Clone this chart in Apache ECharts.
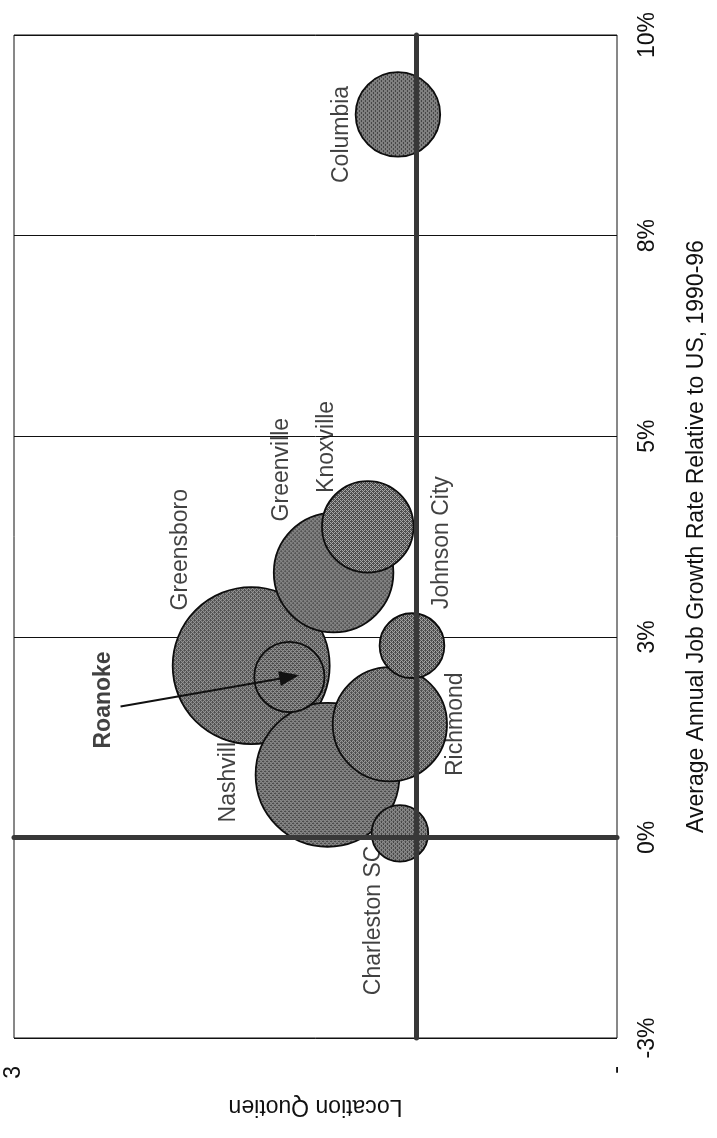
<!DOCTYPE html>
<html>
<head>
<meta charset="utf-8">
<script src="https://cdn.jsdelivr.net/npm/echarts@6/dist/echarts.min.js"></script>
<style>
  html, body { margin: 0; padding: 0; background: #ffffff; }
  #chart { width: 717px; height: 1138px; }
</style>
</head>
<body>
<div id="chart"></div>
<script>
// Metro areas: location quotient, average annual job growth relative to US (%), bubble size
const cities = ['Greensboro', 'Nashville', 'Greenville', 'Knoxville', 'Roanoke', 'Richmond', 'Johnson City', 'Charleston SC', 'Columbia'];
const locationQuotient = [1.82, 1.44, 1.41, 1.24, 1.63, 1.13, 1.02, 1.08, 1.09];
const jobGrowth = [2.14, 0.78, 3.30, 3.87, 2.00, 1.41, 2.39, 0.05, 9.01];
const bubbleSize = [100, 84, 58, 34, 20, 53, 17, 13, 29];

// Axis ranges and ticks
const growthTicks = [-2.5, 0, 2.5, 5, 7.5, 10];
const lqTicks = [0, 3];
const lqCross = 1;          // growth axis crosses the location quotient axis here
const growthCross = 0;      // location quotient axis crosses the growth axis here
const arrowTail = [2.47, 1.63];
const highlighted = 'Roanoke';

// Layout of the (rotated) page
const FONT = '"Liberation Sans", Arial, sans-serif';
const TEXT = '#111111';
const MAX_DIAMETER = 157;
// screen offsets of each city label from its bubble centre [dx, dy]
const labelShift = {
  'Greensboro': [-71, -116],
  'Nashville': [-99, 1],
  'Greenville': [-52, -103],
  'Knoxville': [-41, -80],
  'Roanoke': [-186, 23],
  'Richmond': [66, 0],
  'Johnson City': [30, -103],
  'Charleston SC': [-26, 87],
  'Columbia': [-56, 20]
};

const points = cities.map((c, i) => [locationQuotient[i], jobGrowth[i], bubbleSize[i], c]);
const diameter = size => MAX_DIAMETER * Math.sqrt(size / 100);

function pctLabel(v) {
  const r = Math.round(Math.abs(v));
  return (v < 0 ? '-' : '') + r + '%';
}

// fine stippled tile used to fill the bubbles
function stipple() {
  const c = document.createElement('canvas');
  c.width = 4; c.height = 4;
  const g = c.getContext('2d');
  g.fillStyle = '#d6d6d6';
  g.fillRect(0, 0, 4, 4);
  g.fillStyle = '#2a2a2a';
  for (let y = 0; y < 4; y++) {
    for (let x = 0; x < 4; x++) {
      if ((x + y) % 2 === 0) g.fillRect(x, y, 1, 1);
    }
  }
  g.fillStyle = '#5c5c5c';
  g.fillRect(1, 0, 1, 1);
  g.fillRect(3, 2, 1, 1);
  return c;
}
const tile = stipple();

const chart = echarts.init(document.getElementById('chart'), null, { renderer: 'canvas' });

const option = {
  animation: false,
  backgroundColor: '#ffffff',
  grid: {
    left: 14, right: 100, top: 35, bottom: 100,
    show: true, borderColor: '#111111', borderWidth: 1, backgroundColor: 'transparent'
  },
  xAxis: {
    type: 'value',
    min: lqTicks[0], max: lqTicks[lqTicks.length - 1], interval: lqTicks[1] - lqTicks[0],
    inverse: true,
    position: 'bottom',
    axisLine: { show: false, onZero: false },
    axisTick: { show: false },
    splitLine: { show: false },
    axisLabel: {
      rotate: 90, margin: 28, fontSize: 23, fontFamily: FONT, color: TEXT,
      formatter: v => (v === 0 ? '-' : String(v))
    },
    name: 'Location Quotien',
    nameLocation: 'middle',
    nameRotate: 180,
    nameGap: 57,
    nameTextStyle: { fontSize: 23, fontFamily: FONT, color: TEXT }
  },
  yAxis: {
    type: 'value',
    min: growthTicks[0], max: growthTicks[growthTicks.length - 1], interval: growthTicks[1] - growthTicks[0],
    position: 'right',
    axisLine: { show: false },
    axisTick: { show: false },
    splitLine: { show: true, lineStyle: { color: '#111111', width: 1 } },
    axisLabel: {
      rotate: 90, margin: 19, fontSize: 23, fontFamily: FONT, color: TEXT,
      formatter: pctLabel
    },
    name: 'Average Annual Job Growth Rate Relative to US, 1990-96',
    nameLocation: 'middle',
    nameRotate: 90,
    nameGap: 68,
    nameTextStyle: { fontSize: 23, fontFamily: FONT, color: TEXT }
  },
  series: [
    {
      // city names and the two crossing axes, drawn beneath the bubbles
      type: 'scatter',
      z: 2,
      silent: true,
      symbol: 'circle',
      symbolSize: 1,
      itemStyle: { color: 'transparent' },
      data: points.map(p => ({
        value: p,
        label: {
          show: true,
          position: 'inside',
          rotate: 90,
          formatter: p[3],
          fontSize: 23,
          fontFamily: FONT,
          fontWeight: p[3] === highlighted ? 'bold' : 'normal',
          color: TEXT,
          // offsets turn with the rotated text: [along text, across text]
          offset: [-labelShift[p[3]][1], labelShift[p[3]][0]]
        }
      })),
      markLine: {
        silent: true,
        symbol: ['none', 'none'],
        label: { show: false },
        lineStyle: { color: '#383838', width: 5, type: 'solid', cap: 'round' },
        data: [{ xAxis: lqCross }, { yAxis: growthCross }]
      }
    },
    {
      type: 'scatter',
      z: 3,
      silent: true,
      symbol: 'circle',
      symbolSize: v => diameter(v[2]),
      itemStyle: {
        borderColor: '#0d0d0d',
        borderWidth: 1.8,
        opacity: 1
      },
      label: { show: false },
      data: points.map(p => {
        // symbols are drawn as unit circles scaled up, so the tile is scaled back down
        const k = 2 / diameter(p[2]);
        return {
          value: p,
          itemStyle: { color: { image: tile, repeat: 'repeat', scaleX: k, scaleY: k } }
        };
      })
    },
    {
      // pointer from the highlighted label to its bubble
      type: 'scatter',
      z: 4,
      silent: true,
      symbolSize: 0,
      data: [],
      markLine: {
        silent: true,
        symbol: ['none', 'triangle'],
        symbolSize: [15, 20],
        label: { show: false },
        lineStyle: { color: '#111111', width: 2, type: 'solid' },
        data: [[
          { coord: arrowTail },
          { coord: points[cities.indexOf(highlighted)].slice(0, 2) }
        ]]
      }
    }
  ]
};

chart.setOption(option);
</script>
</body>
</html>
